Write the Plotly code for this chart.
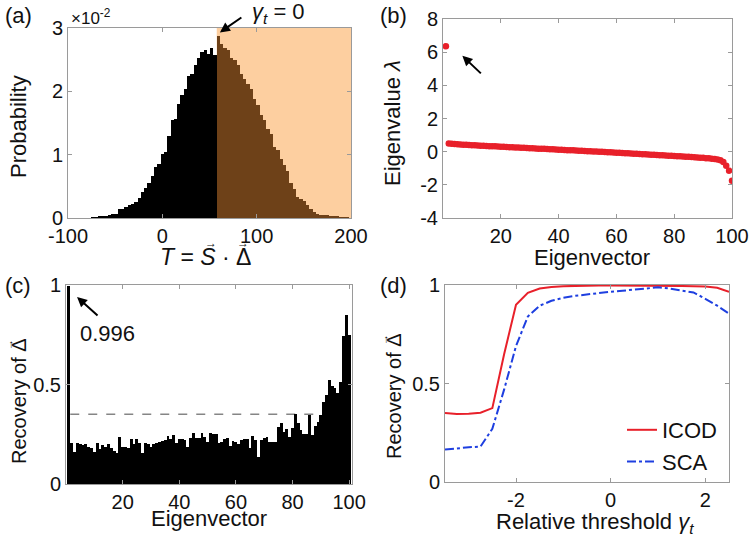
import numpy as np
import plotly.graph_objects as go

# ---------------- data ----------------
# (a) histogram of T = S . Delta  (probability, in units of 1e-2)
T_bin_start = -75.3
T_bin_width = 3.5
T_threshold = 57.7
probability = [0.01, 0.015, 0.02, 0.03, 0.037, 0.05, 0.063, 0.07, 0.14, 0.14,
               0.17, 0.20, 0.22, 0.26, 0.32, 0.41, 0.48, 0.56, 0.66, 0.80,
               0.85, 1.01, 1.04, 1.30, 1.54, 1.57, 1.80, 1.94, 2.04, 2.25,
               2.28, 2.41, 2.52, 2.62, 2.65, 2.59, 2.68, 2.58,
               2.88, 2.75, 2.68, 2.65, 2.52, 2.49, 2.41, 2.28, 2.20, 2.12,
               2.04, 1.88, 1.78, 1.62, 1.54, 1.41, 1.33, 1.12, 1.07, 0.93,
               0.83, 0.75, 0.56, 0.46, 0.33, 0.30, 0.27, 0.20, 0.14, 0.10,
               0.06, 0.05, 0.04, 0.04, 0.03, 0.02, 0.02, 0.01, 0.01, 0.005]
T_ticks = [-100, 0, 100, 200]
T_ticklabels = ["-100", "0", "100", "200"]
prob_ticks = [0, 1, 2, 3]

# (b) eigenvalues
eigenvalues = [6.35,
               0.49, 0.47, 0.46, 0.44, 0.43, 0.42, 0.41, 0.40, 0.39,
               0.38, 0.37, 0.36, 0.35, 0.34, 0.33, 0.33, 0.32, 0.31, 0.30,
               0.29, 0.28, 0.27, 0.26, 0.25, 0.25, 0.24, 0.23, 0.22, 0.21,
               0.20, 0.19, 0.18, 0.17, 0.17, 0.16, 0.15, 0.14, 0.13, 0.12,
               0.11, 0.10, 0.09, 0.09, 0.08, 0.07, 0.06, 0.05, 0.04, 0.03,
               0.02, 0.01, 0.01, 0.00, -0.01, -0.02, -0.03, -0.04, -0.05, -0.06,
               -0.07, -0.08, -0.09, -0.10, -0.11, -0.12, -0.13, -0.14, -0.15, -0.16,
               -0.17, -0.18, -0.19, -0.20, -0.21, -0.22, -0.23, -0.24, -0.25, -0.26,
               -0.27, -0.28, -0.29, -0.30, -0.31, -0.32, -0.33, -0.35, -0.36, -0.37,
               -0.39, -0.40, -0.42, -0.44, -0.47, -0.52, -0.62, -0.85, -1.15, -1.75]
eig_ticks = [-4, -2, 0, 2, 4, 6, 8]
eig_ticklabels = ["-4", "-2", "0", "2", "4", "6", "8"]
vec_ticks = [20, 40, 60, 80, 100]

# (c) recovery of Delta by each eigenvector
recovery = [0.996, 0.208, 0.162, 0.204, 0.20, 0.196, 0.20, 0.188, 0.18, 0.162,
            0.204, 0.174, 0.196, 0.188, 0.20, 0.18, 0.168, 0.157, 0.238, 0.188,
            0.188, 0.182, 0.224, 0.20, 0.224, 0.204, 0.154, 0.204, 0.20, 0.188,
            0.20, 0.208, 0.21, 0.218, 0.22, 0.243, 0.224, 0.246, 0.204, 0.224,
            0.224, 0.22, 0.188, 0.23, 0.258, 0.23, 0.23, 0.258, 0.238, 0.21,
            0.255, 0.25, 0.25, 0.204, 0.213, 0.224, 0.23, 0.19, 0.218, 0.213,
            0.20, 0.22, 0.224, 0.224, 0.18, 0.24, 0.22, 0.137, 0.22, 0.23,
            0.238, 0.213, 0.213, 0.213, 0.288, 0.305, 0.263, 0.275, 0.238, 0.28,
            0.352, 0.305, 0.27, 0.25, 0.25, 0.347, 0.246, 0.29, 0.313, 0.347,
            0.41, 0.447, 0.523, 0.49, 0.48, 0.455, 0.514, 0.744, 0.85, 0.75]
recovery_mean_level = 0.35
recovery_mean_range = [1.5, 89.5]
rec_ticks = [0, 0.5, 1]

# (d) recovery vs relative threshold
gamma_t = [-3.5, -3.25, -3.0, -2.75, -2.5, -2.25, -2.0, -1.75, -1.5, -1.25,
           -1.0, -0.75, -0.5, -0.25, 0.0, 0.25, 0.5, 0.75, 1.0, 1.25,
           1.5, 1.75, 2.0, 2.25, 2.5]
icod = [0.35, 0.345, 0.347, 0.352, 0.375, 0.65, 0.90, 0.96, 0.982, 0.99,
        0.994, 0.996, 0.997, 0.998, 0.998, 0.998, 0.998, 0.998, 0.997, 0.996,
        0.995, 0.994, 0.992, 0.986, 0.965]
sca = [0.165, 0.172, 0.176, 0.18, 0.27, 0.47, 0.69, 0.84, 0.895, 0.92,
       0.935, 0.945, 0.953, 0.96, 0.966, 0.971, 0.976, 0.982, 0.988, 0.982,
       0.972, 0.962, 0.93, 0.895, 0.855]
gamma_ticks = [-2, 0, 2]
gamma_ticklabels = ["-2", "0", "2"]

# ---------------- figure ----------------
W, H = 750, 539
def px(x):
    return x / W
def py(y):
    return 1 - y / H

FONT = "Liberation Sans, Arial, Helvetica, sans-serif"
TXT = "#111111"
FRAME = "#9a9a9a"
RED = "#E8202A"
BLUE = "#1E3FE0"
BROWN = "#6E4118"
PEACH = "#FDCFA0"

fig = go.Figure()

# (a)
T_centers = T_bin_start + T_bin_width * (np.arange(len(probability)) + 0.5)
bar_colors = ["#000000" if c < T_threshold else BROWN for c in T_centers]
fig.add_trace(go.Bar(x=T_centers, y=probability, width=T_bin_width,
                     marker=dict(color=bar_colors, line=dict(width=0)),
                     xaxis="x", yaxis="y", showlegend=False))

# (b)
eig_idx = np.arange(1, len(eigenvalues) + 1)
fig.add_trace(go.Scatter(x=eig_idx, y=eigenvalues, mode="markers",
                         marker=dict(color=RED, size=6.5, line=dict(width=0)),
                         xaxis="x2", yaxis="y2", showlegend=False))

# (c)
rec_idx = np.arange(1, len(recovery) + 1)
fig.add_trace(go.Bar(x=rec_idx, y=recovery, width=1.0,
                     marker=dict(color="#000000", line=dict(width=0)),
                     xaxis="x3", yaxis="y3", showlegend=False))

# (d)
fig.add_trace(go.Scatter(x=gamma_t, y=icod, mode="lines", name="ICOD",
                         line=dict(color=RED, width=2),
                         xaxis="x4", yaxis="y4"))
fig.add_trace(go.Scatter(x=gamma_t, y=sca, mode="lines", name="SCA",
                         line=dict(color=BLUE, width=2, dash="dashdot"),
                         xaxis="x4", yaxis="y4"))

axis_common = dict(showline=True, mirror="ticks", linecolor=FRAME, linewidth=1,
                   ticks="inside", ticklen=4, tickcolor=FRAME, showgrid=False,
                   zeroline=False, automargin=False,
                   tickfont=dict(family=FONT, size=20, color=TXT))

fig.update_layout(
    width=W, height=H,
    margin=dict(l=0, r=0, t=0, b=0, pad=0, autoexpand=False),
    paper_bgcolor="white", plot_bgcolor="white",
    bargap=0, barmode="overlay",
    font=dict(family=FONT, color=TXT),
    xaxis=dict(domain=[px(68), px(351)], range=[-100, 200], tickvals=T_ticks,
               ticktext=T_ticklabels, anchor="y", **axis_common),
    yaxis=dict(domain=[py(218), py(28)], range=[0, 3], tickvals=prob_ticks,
               anchor="x", **axis_common),
    xaxis2=dict(domain=[px(443), px(732)], range=[0, 100], tickvals=vec_ticks,
                anchor="y2", **axis_common),
    yaxis2=dict(domain=[py(218), py(19)], range=[-4, 8], tickvals=eig_ticks,
                ticktext=eig_ticklabels, anchor="x2", **axis_common),
    xaxis3=dict(domain=[px(66), px(352)], range=[0, 101], tickvals=vec_ticks,
                anchor="y3", **axis_common),
    yaxis3=dict(domain=[py(484), py(285)], range=[0, 1], tickvals=rec_ticks,
                anchor="x3", **axis_common),
    xaxis4=dict(domain=[px(445), px(729)], range=[-3.5, 2.5], tickvals=gamma_ticks,
                ticktext=gamma_ticklabels, anchor="y4", **axis_common),
    yaxis4=dict(domain=[py(482), py(285)], range=[0, 1], tickvals=rec_ticks,
                anchor="x4", **axis_common),
    legend=dict(x=px(722), y=py(483), xanchor="right", yanchor="bottom",
                bgcolor="rgba(0,0,0,0)", font=dict(family=FONT, size=22, color=TXT),
                itemwidth=30, tracegroupgap=0),
)

# shaded region in (a) and mean level in (c)
fig.add_shape(type="rect", xref="x", yref="y", x0=T_threshold, x1=200, y0=0, y1=3,
              fillcolor=PEACH, line=dict(width=0), layer="below")
fig.add_shape(type="line", xref="x3", yref="y3",
              x0=recovery_mean_range[0], x1=recovery_mean_range[1],
              y0=recovery_mean_level, y1=recovery_mean_level,
              line=dict(color="#858585", width=1.5, dash="dash"), layer="below")

ann = []
def text(x, y, t, size=21, angle=0, xanchor="center", family=FONT):
    ann.append(dict(x=x, y=y, xref="paper", yref="paper", text=t, showarrow=False,
                    textangle=angle, xanchor=xanchor, yanchor="middle",
                    font=dict(family=family, size=size, color=TXT)))

# panel labels
text(px(18), py(16), "(a)", size=22)
text(px(393), py(16), "(b)", size=22)
text(px(18), py(285), "(c)", size=22)
text(px(393), py(285), "(d)", size=22)

# axis titles (vector arrows drawn as small arrows above the symbols)
text(px(205), py(257), "<i>T</i> = <i>S</i> · Δ", size=23)
text(px(211), py(243), "→", size=12)
text(px(243), py(243), "→", size=12)
text(px(18), py(127), "Probability", angle=-90, size=22)
text(px(393), py(123), "Eigenvalue <i>λ</i>", angle=-90, size=22)
text(px(592), py(257), "Eigenvector", size=22)
text(px(19), py(401), "Recovery of Δ", angle=-90, size=20)
text(px(9), py(345), "→", size=11, angle=-90)
text(px(209), py(518), "Eigenvector", size=22)
text(px(394), py(396), "Recovery of Δ", angle=-90, size=20)
text(px(384), py(340), "→", size=11, angle=-90)
text(px(595), py(523), "Relative threshold <i>γ<sub>t</sub></i>", size=22)

# exponent label
text(px(69), py(17), "×10<sup>-2</sup>", size=17, xanchor="left")

# gamma_t annotation in (a)
text(px(278), py(13), "<i>γ<sub>t</sub></i> = 0", size=22)
ann.append(dict(x=61, y=2.93, xref="x", yref="y", ax=23, ay=-16, axref="pixel", ayref="pixel",
                showarrow=True, arrowhead=2, arrowsize=1, arrowwidth=2, arrowcolor="#000",
                text=""))
# arrow in (b)
ann.append(dict(x=6.7, y=5.78, xref="x2", yref="y2", ax=20, ay=19,
                showarrow=True, arrowhead=2, arrowsize=1, arrowwidth=2, arrowcolor="#000",
                text=""))
# arrow and value in (c)
ann.append(dict(x=3.9, y=0.94, xref="x3", yref="y3", ax=22, ay=20,
                showarrow=True, arrowhead=2, arrowsize=1, arrowwidth=2, arrowcolor="#000",
                text=""))
text(px(108), py(333), "0.996", size=22)

fig.update_layout(annotations=ann)

fig.write_html("out.html", config={"displayModeBar": False},
               post_script="document.body.style.margin='0';document.body.style.overflow='hidden';")
